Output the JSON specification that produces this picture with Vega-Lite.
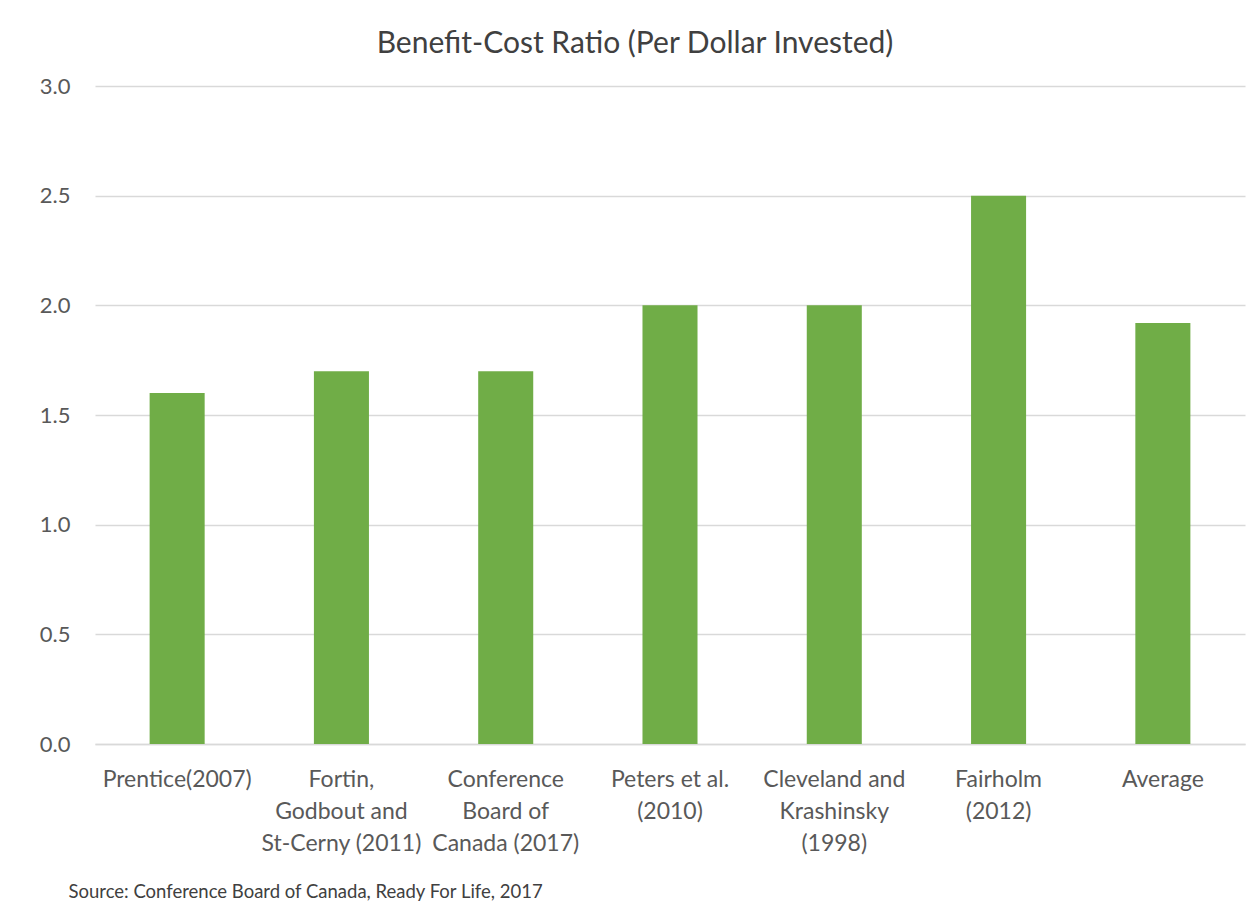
{
  "$schema": "https://vega.github.io/schema/vega-lite/v6.json",
  "autosize": {"type": "none"},
  "width": 1150,
  "height": 658,
  "padding": {"left": 95, "top": 86, "right": 15, "bottom": 172},
  "background": "white",
  "title": {
    "text": "Benefit-Cost Ratio (Per Dollar Invested)",
    "font": "Lato",
    "fontSize": 30,
    "fontWeight": "normal",
    "color": "#404040",
    "anchor": "middle",
    "dx": -35,
    "offset": 16
  },
  "data": {
    "values": [
      {"study": "Prentice(2007)", "ratio": 1.6},
      {"study": "Fortin, Godbout and St-Cerny (2011)", "ratio": 1.7},
      {"study": "Conference Board of Canada (2017)", "ratio": 1.7},
      {"study": "Peters et al. (2010)", "ratio": 2.0},
      {"study": "Cleveland and Krashinsky (1998)", "ratio": 2.0},
      {"study": "Fairholm (2012)", "ratio": 2.5},
      {"study": "Average", "ratio": 1.92}
    ]
  },
  "mark": {"type": "bar", "color": "#70AD47"},
  "encoding": {
    "x": {
      "field": "study",
      "type": "nominal",
      "sort": null,
      "scale": {"paddingInner": 0.665, "paddingOuter": 0.3325},
      "axis": {
        "title": "Source: Conference Board of Canada, Ready For Life, 2017",
        "titleFont": "Lato",
        "titleFontSize": 18.5,
        "titleFontWeight": "normal",
        "titleColor": "#404040",
        "titleAnchor": "start",
        "titleAlign": "left",
        "titleBaseline": "alphabetic",
        "titleX": -27,
        "titleY": 153,
        "labelAngle": 0,
        "labelFont": "Lato",
        "labelFontSize": 23,
        "labelColor": "#595959",
        "labelPadding": 24,
        "labelLineHeight": 32,
        "labelBaseline": "top",
        "labelExpr": "datum.value == 'Fortin, Godbout and St-Cerny (2011)' ? ['Fortin,', 'Godbout and', 'St-Cerny (2011)'] : datum.value == 'Conference Board of Canada (2017)' ? ['Conference', 'Board of', 'Canada (2017)'] : datum.value == 'Peters et al. (2010)' ? ['Peters et al.', '(2010)'] : datum.value == 'Cleveland and Krashinsky (1998)' ? ['Cleveland and', 'Krashinsky', '(1998)'] : datum.value == 'Fairholm (2012)' ? ['Fairholm', '(2012)'] : datum.value",
        "ticks": false,
        "domainColor": "#d9d9d9",
        "domainWidth": 1.5,
        "grid": false
      }
    },
    "y": {
      "field": "ratio",
      "type": "quantitative",
      "scale": {"domain": [0, 3]},
      "axis": {
        "title": null,
        "values": [0, 0.5, 1, 1.5, 2, 2.5, 3],
        "format": ".1f",
        "labelFont": "Lato",
        "labelFontSize": 22,
        "labelColor": "#595959",
        "labelPadding": 25,
        "ticks": false,
        "domain": false,
        "grid": true,
        "gridColor": "#d9d9d9",
        "gridWidth": 1.5
      }
    }
  },
  "config": {"view": {"stroke": null}}
}
